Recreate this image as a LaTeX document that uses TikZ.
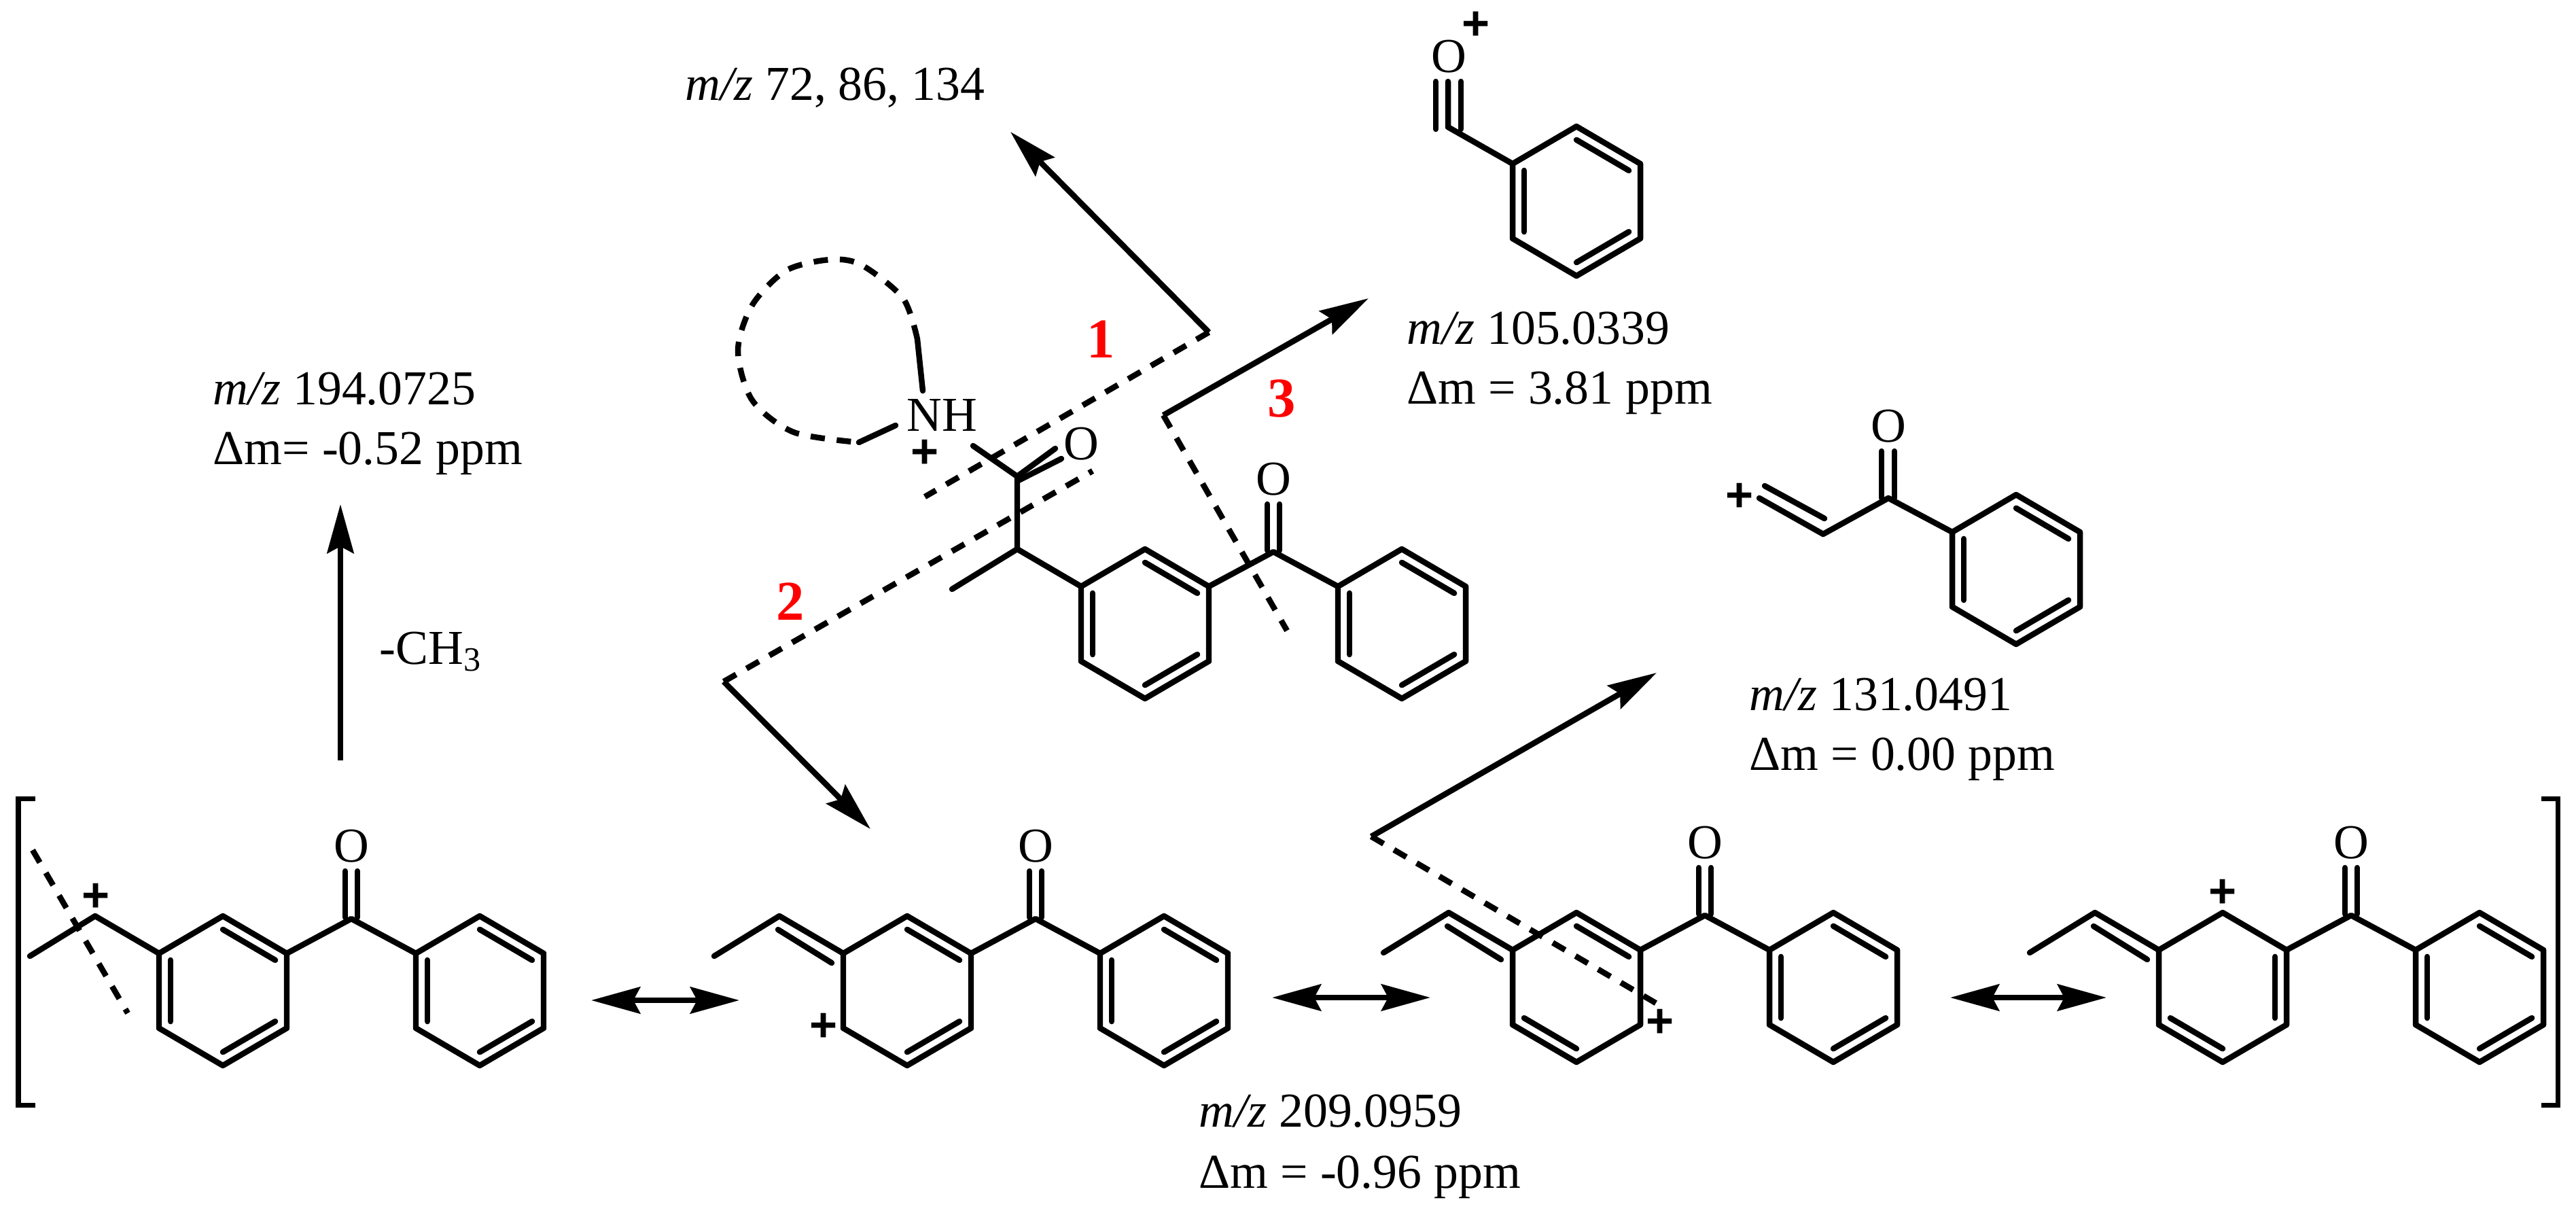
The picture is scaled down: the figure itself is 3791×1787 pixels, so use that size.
\documentclass[tikz,border=0pt]{standalone}
\usepackage{fontspec}
\setmainfont{Liberation Serif}
\newfontfamily\plusfont{Liberation Sans}
\usepackage{tikz}
\usetikzlibrary{arrows.meta,calc}

% hexagon with its inner double bonds, corners #11 .. #16 clockwise from the top
\newcommand{\benzring}[4]{%
  \begin{scope}[shift={(#2,#3)}]
    \coordinate (#1c) at (0,0);
    \foreach \idx/\xx/\yy in {1/0/-110,2/94/-55,3/94/55,4/0/110,5/-94/55,6/-94/-55} {
      \coordinate (#1\idx) at (\xx,\yy);
    }
    \draw[bnd] (#11)--(#12)--(#13)--(#14)--(#15)--(#16)--cycle;
    \foreach \sa/\sb in {#4} {
      \draw[bnd] ($(#1c)!0.82!(#1\sa)$)--($(#1c)!0.82!(#1\sb)$);
    }
  \end{scope}}
% the two rings joined by the C=O
\newcommand{\phenone}[4]{%
  \benzring{#1a}{#2}{#3}{#4}
  \benzring{#1b}{#2+378}{#3}{1/2,3/4,5/6}
  \coordinate (#1co) at (#2+189,#3-106);
  \coordinate (#1ol) at (#2+180,#3-176);
  \coordinate (#1il) at (#2+180,#3-108);
  \coordinate (#1or) at (#2+198,#3-176);
  \coordinate (#1ir) at (#2+198,#3-108);
  \draw[bnd] (#1a2)--(#1co)--(#1b6);
  \draw[bnd] (#1il)--(#1ol);
  \draw[bnd] (#1ir)--(#1or);
  \node[atm] (#1O) at (#2+189,#3-213){O};
  \coordinate (#1me) at (#2-284,#3-51);
  \coordinate (#1ch) at (#2-188,#3-110);
  \draw[bnd] (#1me)--(#1ch)--(#1a6);}

\begin{document}
\begin{tikzpicture}[
      x=0.01cm, y=-0.01cm,
      bnd/.style={line width=2.4pt, line cap=round, line join=round},
      dsh/.style={line width=2.4pt, dash pattern=on 6pt off 5pt},
      arw/.style={line width=2.4pt, -{Stealth[length=7.2mm,width=3.9mm,inset=1mm]}},
      res/.style={line width=2.4pt, {Stealth[length=7.2mm,width=3.9mm,inset=1mm]}-{Stealth[length=7.2mm,width=3.9mm,inset=1mm]}},
      brk/.style={line width=2pt},
      txt/.style={anchor=base west, inner sep=0pt, font=\fontsize{20.4}{24}\selectfont},
      atm/.style={inner sep=0pt, font=\fontsize{20.4}{24}\selectfont},
      pls/.style={inner sep=0pt, font=\plusfont\bfseries\fontsize{20}{22}\selectfont},
      num/.style={inner sep=0pt, text=red, font=\fontsize{23.5}{26}\selectfont\bfseries}
    ]
      \useasboundingbox (0,0) rectangle (3791,1787);

      % precursor
      \phenone{T}{1685}{918}{1/2,3/4,5/6}
      \node[atm] (nh) at (1386,611){NH};
      \node[pls] (nhp) at (1361,668){+};
      \node[atm] (amo) at (1591,653){O};
      \coordinate (nhb) at (1432,656);
      \coordinate (amc) at (1497,701);
      \coordinate (amt) at (1553,660);
      \coordinate (ams) at (1497,708);
      \coordinate (amu) at (1562,675);
      \draw[bnd] (nhb)--(amc)--(Tch);
      \draw[bnd] (amc)--(amt);
      \draw[bnd] (ams)--(amu);

      % the loop on the nitrogen
      \coordinate (lpa) at (1358,575);
      \coordinate (lpb) at (1350,499);
      \coordinate (lpc) at (1318,626);
      \coordinate (lpd) at (1264,651);
      \draw[bnd] (lpa)--(lpb);
      \draw[bnd] (lpc)--(lpd);
      \draw[dsh] plot[smooth] coordinates {(1350,499) (1329,439) (1268,390) (1222,382)
        (1157,398) (1107,449) (1086,516) (1107,589) (1168,636) (1264,651)};

      % cleavage 1
      \coordinate (cb1) at (1779,489);
      \coordinate (ce1) at (1361,731);
      \coordinate (tp1) at (1487,194);
      \draw[dsh] (cb1)--(ce1);
      \draw[arw] (cb1)--(tp1);
      \node[num] (n1) at (1620,499){1};
      \node[txt] (mz72) at (1008,147){\textit{m/z} 72, 86, 134};

      % cleavage 2
      \coordinate (cb2) at (1065,1003);
      \coordinate (ce2) at (1608,693);
      \coordinate (tp2) at (1281,1220);
      \draw[dsh] (cb2)--(ce2);
      \draw[arw] (cb2)--(tp2);
      \node[num] (n2) at (1163,885){2};

      % cleavage 3
      \coordinate (cb3) at (1712,611);
      \coordinate (ce3) at (1894,928);
      \coordinate (tp3) at (2014,439);
      \draw[dsh] (cb3)--(ce3);
      \draw[arw] (cb3)--(tp3);
      \node[num] (n3) at (1886,587){3};

      % acylium
      \benzring{Q}{2320}{296}{1/2,3/4,5/6}
      \coordinate (qc) at (2131,187);
      \coordinate (qt) at (2131,120);
      \coordinate (ql) at (2113,190);
      \coordinate (qm) at (2113,120);
      \coordinate (qr) at (2150,190);
      \coordinate (qs) at (2150,120);
      \draw[bnd] (qt)--(qc)--(Q6);
      \draw[bnd] (ql)--(qm);
      \draw[bnd] (qr)--(qs);
      \node[atm] (qo) at (2132,83){O};
      \node[pls] (qp) at (2172,38){+};
      \node[txt] (mz105) at (2070,506){\textit{m/z} 105.0339};
      \node[txt] (dm105) at (2070,594){Δm = 3.81 ppm};

      % vinyl ketone
      \benzring{R}{2967}{838}{1/2,3/4,5/6}
      \coordinate (rc) at (2779,733);
      \coordinate (rv) at (2683,786);
      \coordinate (re) at (2589,733);
      \coordinate (rf) at (2597,715);
      \coordinate (rg) at (2685,763);
      \coordinate (rh) at (2769,733);
      \coordinate (ri) at (2769,664);
      \coordinate (rj) at (2788,733);
      \coordinate (rk) at (2788,664);
      \draw[bnd] (R6)--(rc)--(rv)--(re);
      \draw[bnd] (rf)--(rg);
      \draw[bnd] (rh)--(ri);
      \draw[bnd] (rj)--(rk);
      \node[atm] (ro) at (2779,627){O};
      \node[pls] (rp) at (2560,732){+};
      \node[txt] (mz131) at (2574,1045){\textit{m/z} 131.0491};
      \node[txt] (dm131) at (2574,1133){Δm = 0.00 ppm};

      % the four resonance forms
      \phenone{A}{328}{1458}{1/2,3/4,5/6}
      \phenone{B}{1335}{1458}{1/2,3/4}
      \phenone{C}{2320}{1453}{1/2,4/5}
      \phenone{D}{3271}{1453}{2/3,4/5}
      \foreach \x in {B,C,D} {
        \draw[bnd] ([shift={(-190,-90)}]\x ac)--([shift={(-111,-41)}]\x ac);
      }
      \node[pls] (ap) at (141,1321){+};
      \node[pls] (bp) at (1212,1512){+};
      \node[pls] (cp) at (2443,1506){+};
      \node[pls] (dp) at (3271,1315){+};

      % brackets
      \coordinate (bl1) at (52,1175);
      \coordinate (bl2) at (27,1175);
      \coordinate (bl3) at (27,1626);
      \coordinate (bl4) at (52,1626);
      \coordinate (br1) at (3740,1175);
      \coordinate (br2) at (3764,1175);
      \coordinate (br3) at (3764,1626);
      \coordinate (br4) at (3740,1626);
      \draw[brk] (bl1)--(bl2)--(bl3)--(bl4);
      \draw[brk] (br1)--(br2)--(br3)--(br4);

      % resonance arrows
      \coordinate (ra1) at (870,1472);
      \coordinate (ra2) at (1088,1472);
      \coordinate (rb1) at (1872,1468);
      \coordinate (rb2) at (2105,1468);
      \coordinate (rc1) at (2870,1468);
      \coordinate (rc2) at (3100,1468);
      \draw[res] (ra1)--(ra2);
      \draw[res] (rb1)--(rb2);
      \draw[res] (rc1)--(rc2);
      \node[txt] (mz209) at (1764,1658){\textit{m/z} 209.0959};
      \node[txt] (dm209) at (1764,1748){Δm = -0.96 ppm};

      % loss of the methyl
      \coordinate (da1) at (48,1251);
      \coordinate (da2) at (188,1491);
      \draw[dsh] (da1)--(da2);
      \coordinate (mb) at (501,1119);
      \coordinate (mt) at (501,742);
      \draw[arw] (mb)--(mt);
      \node[txt] (ch3) at (558,977){-CH\textsubscript{3}};
      \node[txt] (mz194) at (313,595){\textit{m/z} 194.0725};
      \node[txt] (dm194) at (313,683){Δm= -0.52 ppm};

      % second cut, onto the vinyl ketone
      \coordinate (dc1) at (2018,1231);
      \coordinate (dc2) at (2452,1485);
      \coordinate (tp4) at (2438,990);
      \draw[dsh] (dc1)--(dc2);
      \draw[arw] (dc1)--(tp4);
    \end{tikzpicture}
\end{document}
